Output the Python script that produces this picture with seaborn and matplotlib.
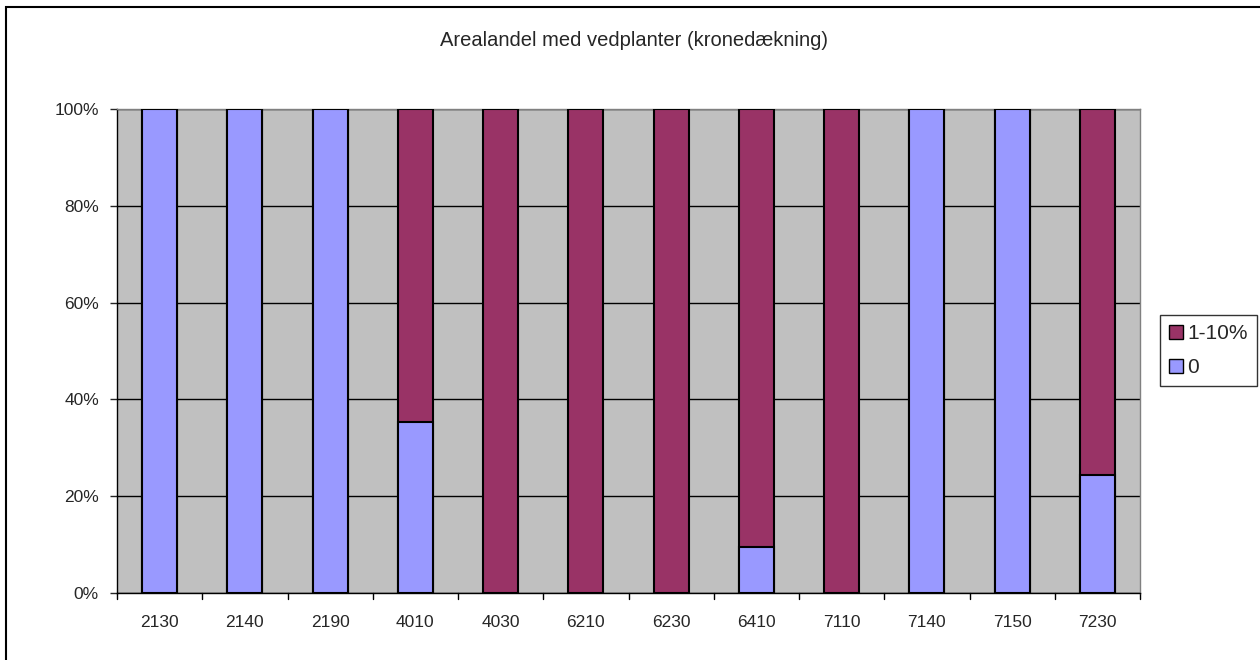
import matplotlib
matplotlib.use("Agg")
import matplotlib.pyplot as plt
import seaborn as sns
import pandas as pd
from matplotlib.patches import Patch, Rectangle

sns.set_style("white")
plt.rcParams['font.family'] = ['Liberation Sans', 'DejaVu Sans']

categories = ["2130", "2140", "2190", "4010", "4030", "6210", "6230",
              "6410", "7110", "7140", "7150", "7230"]
share_0 = [100, 100, 100, 35.3, 0, 0, 0, 9.5, 0, 100, 100, 24.4]
share_1_10 = [0, 0, 0, 64.7, 100, 100, 100, 90.5, 100, 0, 0, 75.6]

BLUE = "#9999FF"
MAROON = "#993366"

df = pd.DataFrame({"kategori": categories,
                   "nul": share_0,
                   "en_ti": share_1_10})
df["total"] = df["nul"] + df["en_ti"]

fig = plt.figure(figsize=(12.6, 6.6), dpi=100)
ax = fig.add_axes([117 / 1260, 1 - 593 / 660, (1140 - 117) / 1260, (593 - 109) / 660])
ax.set_facecolor("#C0C0C0")

# stacked: full height in maroon, lower share in blue on top of it
sns.barplot(data=df, x="kategori", y="total", color=MAROON, saturation=1,
            width=0.41, edgecolor="black", linewidth=1.5, ax=ax, zorder=3)
sns.barplot(data=df, x="kategori", y="nul", color=BLUE, saturation=1,
            width=0.41, edgecolor="black", linewidth=1.5, ax=ax, zorder=4)
# drop zero-height patches so no stray edge lines sit on the axis
for p in ax.patches:
    if p.get_height() == 0:
        p.set_visible(False)

ax.set_ylim(0, 100)
ax.set_xlim(-0.5, len(categories) - 0.5)
ax.set_yticks([0, 20, 40, 60, 80, 100])
ax.set_yticklabels([f"{v}%" for v in [0, 20, 40, 60, 80, 100]], fontsize=12.5)
ax.tick_params(axis="x", labelsize=12.5, length=0, pad=16)
ax.tick_params(axis="y", length=5, width=1, direction="out", pad=8, left=True)
ax.yaxis.grid(True, color="black", linewidth=1)
ax.set_axisbelow(True)
ax.set_xlabel("")
ax.set_ylabel("")

for s in ["top", "right"]:
    ax.spines[s].set_color("#808080")
    ax.spines[s].set_linewidth(1)
for s in ["left", "bottom"]:
    ax.spines[s].set_color("black")
    ax.spines[s].set_linewidth(1)

# category tick marks between bars
for i in range(len(categories) + 1):
    ax.plot([i - 0.5, i - 0.5], [0, -1.2], color="black", lw=1, clip_on=False)

fig.text(634 / 1260, 1 - 40 / 660,
         "Arealandel med vedplanter (kronedækning)",
         ha="center", va="center", fontsize=14.5)

handles = [Patch(facecolor=MAROON, edgecolor="black", label="1-10%"),
           Patch(facecolor=BLUE, edgecolor="black", label="0")]
leg = fig.legend(handles=handles, loc="upper left",
                 bbox_to_anchor=(1160 / 1260, 1 - 315 / 660),
                 frameon=True, fancybox=False, fontsize=15,
                 handlelength=0.65, handleheight=0.65, handletextpad=0.2,
                 borderpad=0.45, labelspacing=0.7, borderaxespad=0)
leg.get_frame().set_edgecolor("black")
leg.get_frame().set_linewidth(1)

# outer chart border
fig.add_artist(Rectangle((6 / 1260, -0.1), 1.2, 1 - 7 / 660 + 0.1,
                         transform=fig.transFigure, fill=False,
                         edgecolor="black", linewidth=1.5))

fig.savefig("out.png", dpi=100, facecolor="white")
